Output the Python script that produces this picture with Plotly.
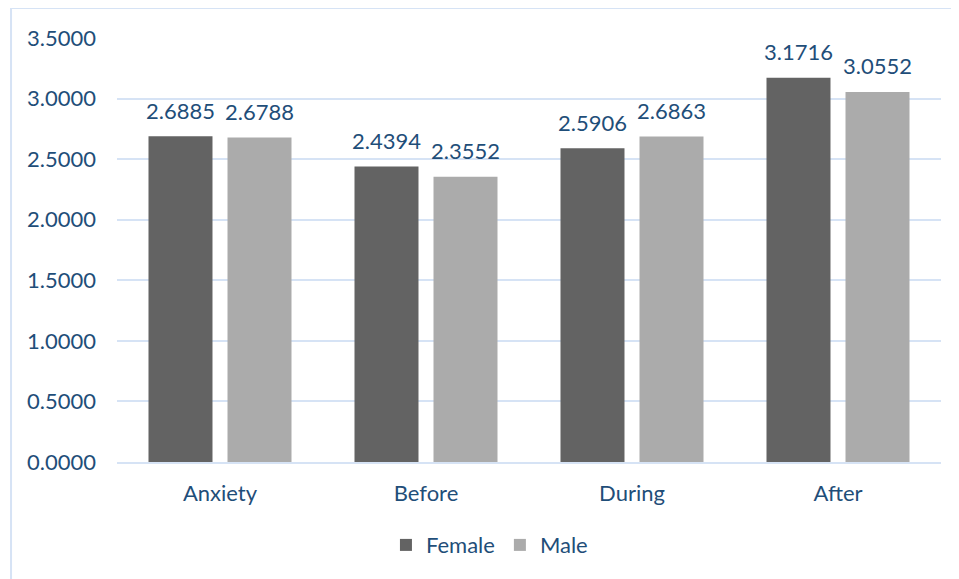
import plotly.graph_objects as go

# chart data
categories = ["Anxiety", "Before", "During", "After"]
female = [2.6885, 2.4394, 2.5906, 3.1716]
male = [2.6788, 2.3552, 2.6863, 3.0552]
y_ticks = [0, 0.5, 1.0, 1.5, 2.0, 2.5, 3.0, 3.5]

text_color = "#1F4E79"
grid_color = "#D6E3F5"
font_name = "Lato"
fsize = 22

fig = go.Figure()
fig.add_trace(go.Bar(x=categories, y=female, name="Female",
                     marker=dict(color="#636363", line=dict(width=0))))
fig.add_trace(go.Bar(x=categories, y=male, name="Male",
                     marker=dict(color="#ababab", line=dict(width=0))))

# value labels above the bars
for vals, shift in [(female, -39.5), (male, 39.5)]:
    for cat, v in zip(categories, vals):
        fig.add_annotation(x=cat, y=v, xref="x", yref="y", text=f"{v:.4f}",
                           showarrow=False, xshift=shift, yshift=26,
                           yanchor="middle",
                           font=dict(family=font_name, size=fsize, color=text_color))

# outer chart border (only left/top are visible in the window)
fig.add_shape(type="rect", xref="paper", yref="paper",
              x0=-0.1286, x1=1.3, y0=-0.6, y1=1.0708,
              line=dict(color=grid_color, width=2), layer="below")

# page body has an 8px margin, so the figure is shifted by that much
fig.update_layout(
    width=951, height=571,
    margin=dict(l=109, r=18, t=30, b=117),
    paper_bgcolor="white", plot_bgcolor="white",
    barmode="group", bargap=0.233, bargroupgap=0.19,
    font=dict(family=font_name, size=fsize, color=text_color),
    showlegend=True,
    legend=dict(orientation="h", x=0.452, xanchor="center", y=-0.196,
                yanchor="middle", font=dict(size=fsize, color=text_color),
                itemwidth=30, traceorder="normal"),
    xaxis=dict(showgrid=False, ticks="", showline=True, linecolor=grid_color,
               linewidth=2, ticklabelstandoff=11),
    yaxis=dict(range=[0, 3.5], tickvals=y_ticks, tickformat=".4f",
               showgrid=True, gridcolor=grid_color, gridwidth=2,
               zeroline=False, showline=False, ticks="",
               ticklabelstandoff=20),
)

fig.write_html("out.html")
